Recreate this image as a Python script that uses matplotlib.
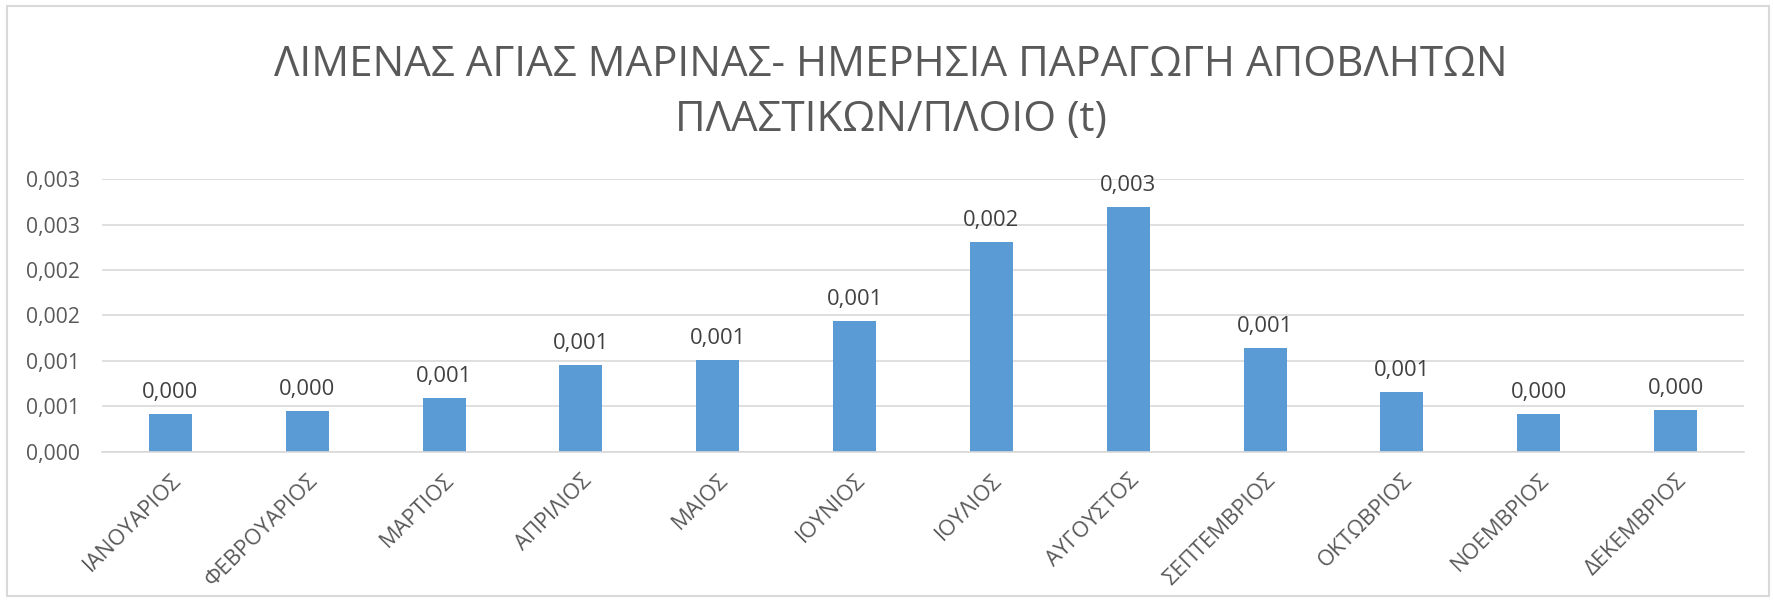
"""
Daily plastic waste per ship, port of Agia Marina - monthly bar chart.

Output:
    out.png
"""

import matplotlib

matplotlib.use("Agg")
import matplotlib.pyplot as plt
from matplotlib.patches import Rectangle

plt.rcParams["font.family"] = ["Open Sans", "DejaVu Sans"]

TITLE = "ΛΙΜΕΝΑΣ ΑΓΙΑΣ ΜΑΡΙΝΑΣ- ΗΜΕΡΗΣΙΑ ΠΑΡΑΓΩΓΗ ΑΠΟΒΛΗΤΩΝ\nΠΛΑΣΤΙΚΩΝ/ΠΛΟΙΟ (t)"

MONTHS = [
    "ΙΑΝΟΥΑΡΙΟΣ",
    "ΦΕΒΡΟΥΑΡΙΟΣ",
    "ΜΑΡΤΙΟΣ",
    "ΑΠΡΙΛΙΟΣ",
    "ΜΑΙΟΣ",
    "ΙΟΥΝΙΟΣ",
    "ΙΟΥΛΙΟΣ",
    "ΑΥΓΟΥΣΤΟΣ",
    "ΣΕΠΤΕΜΒΡΙΟΣ",
    "ΟΚΤΩΒΡΙΟΣ",
    "ΝΟΕΜΒΡΙΟΣ",
    "ΔΕΚΕΜΒΡΙΟΣ",
]

# tonnes per ship per day
WASTE_T = [
    0.000418, 0.000444, 0.000593, 0.000956, 0.001007, 0.001433,
    0.002305, 0.002695, 0.001138, 0.000655, 0.000411, 0.000455,
]

Y_TICKS = [0.0, 0.0005, 0.001, 0.0015, 0.002, 0.0025, 0.003]
Y_TICK_LABELS = ["0,000", "0,001", "0,001", "0,002", "0,002", "0,003", "0,003"]

BAR_COLOR = "#5B9BD5"
GRID_COLOR = "#D9D9D9"
TEXT_COLOR = "#595959"
LABEL_COLOR = "#404040"


def fmt(value: float) -> str:
    return f"{value:.3f}".replace(".", ",")


def main() -> None:
    fig = plt.figure(figsize=(17.74, 6.02), dpi=100)
    ax = fig.add_axes([0.0575, 0.2497, 0.9256, 0.4528])

    x = list(range(len(MONTHS)))
    bars = ax.bar(x, WASTE_T, width=0.314, color=BAR_COLOR, zorder=3)

    for bar, value in zip(bars, WASTE_T):
        ax.annotate(
            fmt(value),
            (bar.get_x() + bar.get_width() / 2, bar.get_height()),
            xytext=(0, 8),
            textcoords="offset points",
            ha="center",
            va="bottom",
            fontsize=15.8,
            color=LABEL_COLOR,
        )

    ax.set_xlim(-0.5, len(MONTHS) - 0.5)
    ax.set_ylim(0, 0.003)
    ax.set_yticks(Y_TICKS)
    ax.set_yticklabels(Y_TICK_LABELS)
    ax.set_xticks(x)
    ax.set_xticklabels(MONTHS)
    plt.setp(
        ax.get_xticklabels(),
        rotation=45,
        ha="right",
        va="top",
        rotation_mode="anchor",
    )

    ax.tick_params(axis="y", length=0, pad=16, labelsize=15.2, labelcolor=TEXT_COLOR)
    ax.tick_params(axis="x", length=0, pad=13, labelsize=15.8, labelcolor=TEXT_COLOR)
    ax.grid(axis="y", color=GRID_COLOR, linewidth=1.2, zorder=0)
    ax.set_axisbelow(True)
    for side in ["top", "right", "left"]:
        ax.spines[side].set_visible(False)
    ax.spines["bottom"].set_color(GRID_COLOR)
    ax.spines["bottom"].set_linewidth(1.2)
    ax.spines["bottom"].set_zorder(4)

    fig.text(
        0.502,
        0.846,
        TITLE,
        ha="center",
        va="center",
        fontsize=30.3,
        color=TEXT_COLOR,
        linespacing=1.42,
    )

    # light chart border like the spreadsheet export
    fig.patches.append(
        Rectangle(
            (0.004, 0.01),
            0.993,
            0.98,
            transform=fig.transFigure,
            fill=False,
            edgecolor=GRID_COLOR,
            linewidth=1.5,
        )
    )

    fig.savefig("out.png", dpi=100)
    plt.close(fig)


if __name__ == "__main__":
    main()
